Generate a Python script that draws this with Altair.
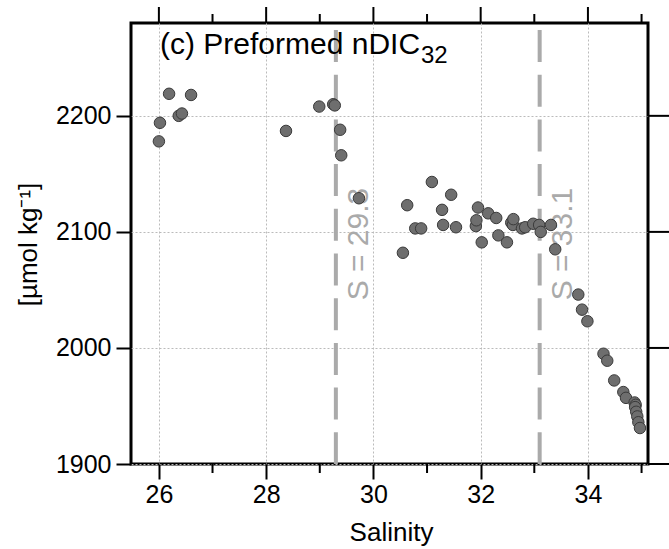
import altair as alt
import pandas as pd

# ---- data ----
salinity = [26.00, 26.02, 26.19, 26.37, 26.43, 26.60, 28.37, 28.99, 29.25, 29.28,
            29.38, 29.40, 29.73, 30.55, 30.63, 30.78, 30.89, 31.09, 31.28, 31.30,
            31.45, 31.54, 31.91, 31.92, 31.95, 32.02, 32.14, 32.29, 32.33, 32.49,
            32.57, 32.60, 32.61, 32.77, 32.83, 32.98, 33.09, 33.12, 33.31, 33.39,
            33.82, 33.89, 33.99, 34.29, 34.36, 34.49, 34.66, 34.71, 34.87, 34.89,
            34.88, 34.90, 34.92, 34.94, 34.97]
ndic = [2178, 2194, 2219, 2200, 2202, 2218, 2187, 2208, 2210, 2209,
        2188, 2166, 2129, 2082, 2123, 2103, 2103, 2143, 2119, 2106,
        2132, 2104, 2105, 2110, 2121, 2091, 2116, 2112, 2097, 2091,
        2108, 2106, 2111, 2103, 2104, 2107, 2106, 2100, 2106, 2085,
        2046, 2033, 2023, 1995, 1989, 1972, 1962, 1957, 1953, 1951,
        1949, 1945, 1941, 1936, 1931]

line_s = [29.3, 33.1]
line_labels = ["S = 29.3", "S = 33.1"]
label_y = [2041, 2041]

x_major = [26, 28, 30, 32, 34]
x_minor = [27, 29, 31, 33, 35]
y_major = [1900, 2000, 2100, 2200]

x_domain = [25.48, 35.12]
y_domain = [1900, 2280]

title_main = "(c) Preformed nDIC"
title_sub = "32"
x_title = "Salinity"
y_title = "[µmol kg⁻¹]"

W, H = 517, 441
FONT = "Liberation Sans"

pts = pd.DataFrame({"S": salinity, "DIC": ndic})
lines = pd.DataFrame({"S": line_s, "label": line_labels, "ly": label_y})
xmaj = pd.DataFrame({"S": x_major})
xmin = pd.DataFrame({"S": x_minor})
ymaj = pd.DataFrame({"DIC": y_major})

xs = alt.Scale(domain=x_domain, nice=False, zero=False)
ys = alt.Scale(domain=y_domain, nice=False, zero=False)

x_axis = alt.Axis(values=x_major, format="d", tickSize=15, tickWidth=2, tickColor="black",
                  labelFontSize=25, labelFont=FONT, labelColor="black",
                  labelBaseline="alphabetic", labelPadding=23,
                  grid=True, gridColor="#bbbbbb", gridDash=[2, 2], gridWidth=1,
                  domain=False, title=x_title, titleFont=FONT, titleFontSize=26,
                  titleFontWeight="normal", titleColor="black",
                  titleX=260, titleY=76, titleBaseline="alphabetic", titleAlign="center")
y_axis = alt.Axis(values=y_major, format="d", tickSize=15, tickWidth=2, tickColor="black",
                  labelFontSize=25, labelFont=FONT, labelColor="black",
                  labelPadding=5, labelBaseline="middle",
                  grid=True, gridColor="#bbbbbb", gridDash=[2, 2], gridWidth=1,
                  domain=False, title=y_title, titleFont=FONT, titleFontSize=26,
                  titleFontWeight="normal", titleColor="black",
                  titleX=-103, titleY=221, titleAngle=270, titleBaseline="middle",
                  titleAlign="center")

points = alt.Chart(pts).mark_circle(size=132, opacity=1, fill="#6e6e6e", stroke="#3a3a3a",
                                    strokeWidth=1).encode(
    x=alt.X("S:Q", scale=xs, axis=x_axis),
    y=alt.Y("DIC:Q", scale=ys, axis=y_axis),
)

vlines = alt.Chart(lines).mark_rule(color="#aaaaaa", strokeWidth=4,
                                    strokeDash=[32, 12.7], strokeDashOffset=37.7).encode(
    x=alt.X("S:Q", scale=xs)
)

vtext = alt.Chart(lines).mark_text(angle=270, align="left", baseline="top", dy=8,
                                   fontSize=30, font=FONT, color="#aaaaaa").encode(
    x=alt.X("S:Q", scale=xs),
    y=alt.Y("ly:Q", scale=ys),
    text="label:N",
)

bottom_minor = alt.Chart(xmin).mark_rule(color="black", strokeWidth=2).encode(
    x=alt.X("S:Q", scale=xs), y=alt.value(H), y2=alt.value(H + 9))
top_major = alt.Chart(xmaj).mark_rule(color="black", strokeWidth=2).encode(
    x=alt.X("S:Q", scale=xs), y=alt.value(0), y2=alt.value(-16))
top_minor = alt.Chart(xmin).mark_rule(color="black", strokeWidth=2).encode(
    x=alt.X("S:Q", scale=xs), y=alt.value(0), y2=alt.value(-9))
right_ticks = alt.Chart(ymaj).mark_rule(color="black", strokeWidth=2).encode(
    y=alt.Y("DIC:Q", scale=ys), x=alt.value(W), x2=alt.value(W + 21))

tdf = pd.DataFrame({"main": [title_main], "sub": [title_sub]})
t_main = alt.Chart(tdf).mark_text(align="left", baseline="alphabetic", fontSize=30,
                                  font=FONT, color="black").encode(
    text="main:N", x=alt.value(29), y=alt.value(31))
t_sub = alt.Chart(tdf).mark_text(align="left", baseline="alphabetic", fontSize=24,
                                 font=FONT, color="black").encode(
    text="sub:N", x=alt.value(290), y=alt.value(40))

chart = alt.layer(
    vlines, vtext, points, bottom_minor, top_major, top_minor, right_ticks, t_main, t_sub
).properties(
    width=W, height=H,
    background="white",
    padding={"left": 131, "top": 23, "right": 21, "bottom": 85},
    autosize=alt.AutoSizeParams(type="none"),
).configure_view(
    stroke="black", strokeWidth=3
)

chart.save("out.html", embed_options={"renderer": "svg", "actions": False})
